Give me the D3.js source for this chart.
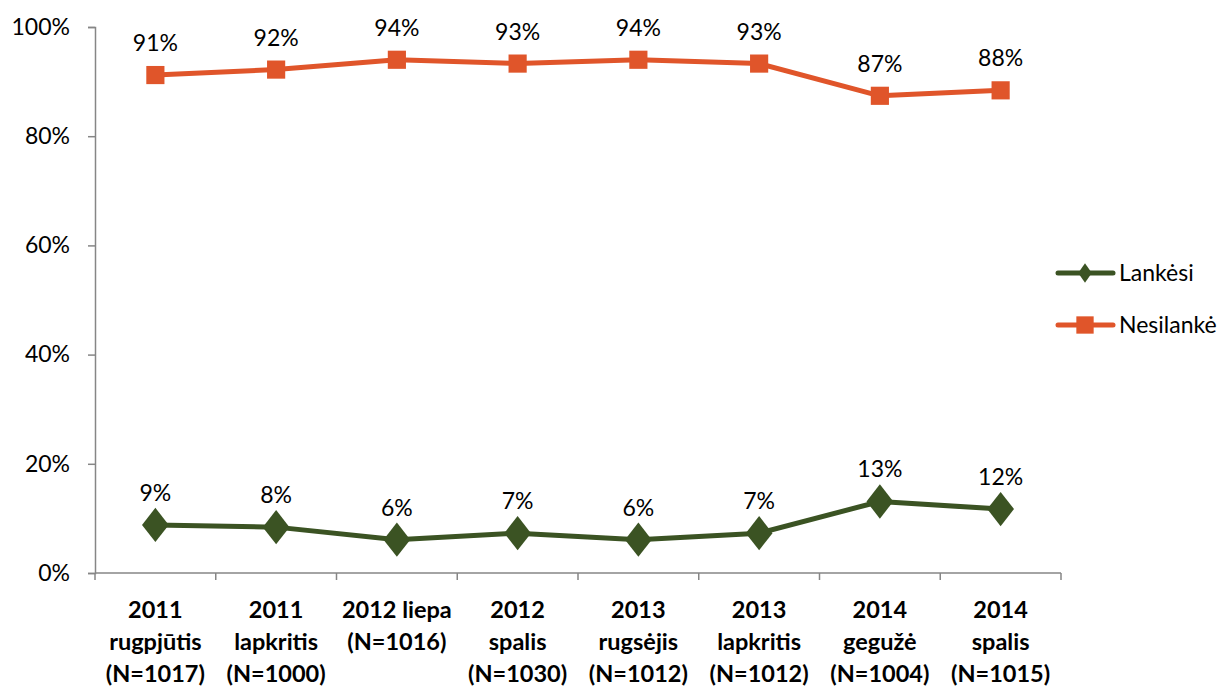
<!DOCTYPE html>
<html>
<head>
<meta charset="utf-8">
<script src="https://cdn.jsdelivr.net/npm/d3@7"></script>
<style>
  body { margin: 0; background: #fff; }
  svg { display: block; font-family: Lato, "Open Sans", sans-serif; }
</style>
</head>
<body>
<svg id="chart" width="1225" height="687"></svg>
<script>
// kategorijos (apklausos bangos)
const categories = [
  ['2011', 'rugpjūtis', '(N=1017)'],
  ['2011', 'lapkritis', '(N=1000)'],
  ['2012 liepa', '(N=1016)'],
  ['2012', 'spalis', '(N=1030)'],
  ['2013', 'rugsėjis', '(N=1012)'],
  ['2013', 'lapkritis', '(N=1012)'],
  ['2014', 'gegužė', '(N=1004)'],
  ['2014', 'spalis', '(N=1015)']
];
const lankesi = [8.8, 8.4, 6.1, 7.3, 6.1, 7.3, 13.1, 11.7];
const nesilanke = [91.2, 92.2, 94.0, 93.3, 94.0, 93.3, 87.4, 88.4];
const yTicks = [0, 20, 40, 60, 80, 100];

const series = [
  { name: 'Lankėsi', values: lankesi, color: '#3B5323', marker: 'diamond' },
  { name: 'Nesilankė', values: nesilanke, color: '#E0552A', marker: 'square' }
];

const svg = d3.select('#chart');
const margin = { top: 27, left: 95, right: 1061, bottom: 573 };

const x = d3.scaleBand()
  .domain(d3.range(categories.length))
  .range([margin.left, margin.right]);

const y = d3.scaleLinear()
  .domain([0, 100])
  .range([margin.bottom, margin.top]);

const axisColor = '#868686';

// Y ašis
const yAxis = svg.append('g')
  .attr('transform', `translate(${margin.left},0)`)
  .call(d3.axisLeft(y).tickValues(yTicks).tickSize(7).tickPadding(18).tickFormat(d => d + '%'));
yAxis.select('.domain').attr('stroke', axisColor).attr('stroke-width', 1.5);
yAxis.selectAll('.tick line').attr('stroke', axisColor).attr('stroke-width', 1.5);
yAxis.selectAll('.tick text')
  .attr('font-size', 23)
  .attr('fill', '#000')
  .attr('font-family', 'Lato, sans-serif');

// X ašis
const xAxis = svg.append('g')
  .attr('transform', `translate(0,${margin.bottom})`);
xAxis.append('line')
  .attr('x1', margin.left).attr('x2', margin.right)
  .attr('stroke', axisColor).attr('stroke-width', 1.5);
xAxis.selectAll('.xtick')
  .data(d3.range(categories.length + 1))
  .join('line')
  .attr('x1', i => i < categories.length ? x(i) : x(i - 1) + x.bandwidth())
  .attr('x2', i => i < categories.length ? x(i) : x(i - 1) + x.bandwidth())
  .attr('y1', 0).attr('y2', 7)
  .attr('stroke', axisColor).attr('stroke-width', 1.5);

// kategorijų etiketės
const labels = xAxis.selectAll('.xlabel')
  .data(categories)
  .join('text')
  .attr('text-anchor', 'middle')
  .attr('font-size', 23.5)
  .attr('font-weight', 'bold')
  .attr('fill', '#000');
labels.selectAll('tspan')
  .data((d, i) => d.map(t => ({ t, i })))
  .join('tspan')
  .attr('x', d => x(d.i) + x.bandwidth() / 2)
  .attr('y', (d, j) => 45 + j * 32)
  .text(d => d.t);

// linijos ir žymekliai
const line = d3.line()
  .x((d, i) => x(i) + x.bandwidth() / 2)
  .y(d => y(d));

series.forEach(s => {
  svg.append('path')
    .datum(s.values)
    .attr('fill', 'none')
    .attr('stroke', s.color)
    .attr('stroke-width', 5)
    .attr('stroke-linejoin', 'round')
    .attr('d', line);

  const symbol = s.marker === 'square'
    ? d3.symbol(d3.symbolSquare, 330)
    : d3.symbol(d3.symbolDiamond, 340);

  svg.selectAll(null)
    .data(s.values)
    .join('path')
    .attr('transform', (d, i) => `translate(${x(i) + x.bandwidth() / 2},${y(d)})${s.marker === 'diamond' ? ' scale(1.35,1)' : ''}`)
    .attr('d', symbol)
    .attr('fill', s.color);

  // reikšmių etiketės
  svg.selectAll(null)
    .data(s.values)
    .join('text')
    .attr('x', (d, i) => x(i) + x.bandwidth() / 2)
    .attr('y', d => y(d) - 24)
    .attr('text-anchor', 'middle')
    .attr('font-size', 23)
    .attr('fill', '#000')
    .text(d => Math.round(d) + '%');
});

// legenda
const legend = svg.append('g');
series.forEach((s, k) => {
  const ly = 273 + k * 52;
  const g = legend.append('g').attr('transform', `translate(0,${ly})`);
  g.append('line')
    .attr('x1', 1058).attr('x2', 1113)
    .attr('stroke', s.color).attr('stroke-width', 5).attr('stroke-linecap', 'round');
  g.append('path')
    .attr('transform', `translate(1085,0)${s.marker === 'diamond' ? ' scale(1.2,1)' : ''}`)
    .attr('d', s.marker === 'square' ? d3.symbol(d3.symbolSquare, 300)() : d3.symbol(d3.symbolDiamond, 110)())
    .attr('fill', s.color);
  g.append('text')
    .attr('x', 1119).attr('y', 8)
    .attr('font-size', 23)
    .attr('fill', '#000')
    .text(s.name);
});
</script>
</body>
</html>
